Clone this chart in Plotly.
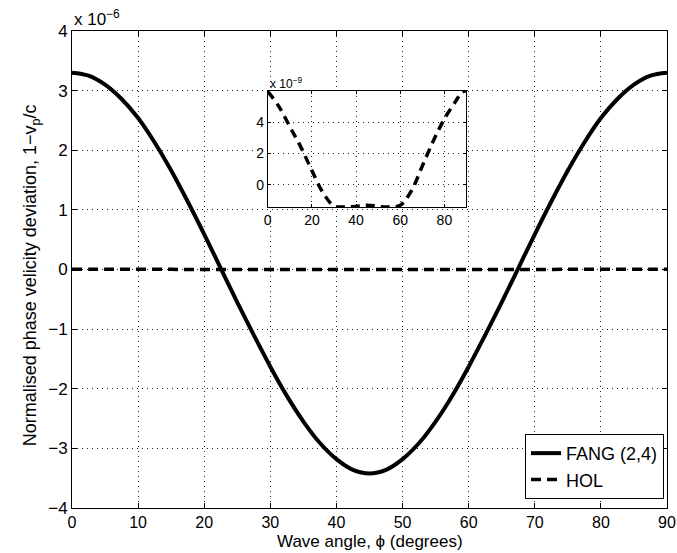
import plotly.graph_objects as go

# Wave angle samples (degrees)
angle = [0, 2.5, 5, 7.5, 10, 12.5, 15, 17.5, 20, 22.5, 25, 27.5, 30, 32.5, 35, 37.5, 40, 42.5,
         45, 47.5, 50, 52.5, 55, 57.5, 60, 62.5, 65, 67.5, 70, 72.5, 75, 77.5, 80, 82.5, 85, 87.5, 90]

# FANG (2,4) normalised phase velocity deviation, units of 1e-6
fang = [3.30, 3.25, 3.10, 2.86, 2.54, 2.13, 1.66, 1.14, 0.59, 0.02, -0.55, -1.10, -1.63,
        -2.12, -2.55, -2.91, -3.18, -3.36, -3.42, -3.36, -3.18, -2.91, -2.55, -2.12, -1.63,
        -1.10, -0.55, 0.02, 0.59, 1.14, 1.66, 2.13, 2.54, 2.86, 3.10, 3.25, 3.30]

# HOL deviation, units of 1e-9
hol_angle = [0, 5, 10, 15, 20, 25, 30, 35, 40, 45, 50, 55, 60, 65, 70, 75, 80, 85, 88, 90]
hol = [5.95, 5.0, 3.7, 2.4, 0.9, -0.5, -1.35, -1.42, -1.38, -1.3, -1.38, -1.42,
       -1.3, -0.4, 1.2, 2.8, 4.2, 5.3, 5.9, 6.0]

main_yticks = [-4, -3, -2, -1, 0, 1, 2, 3, 4]
main_xticks = [0, 10, 20, 30, 40, 50, 60, 70, 80, 90]
inset_xticks = [0, 20, 40, 60, 80]
inset_yticks = [0, 2, 4]

FONT = "Liberation Sans, Arial, Helvetica, sans-serif"
X_RANGE = [0, 90]
Y_RANGE = [-4e-6, 4e-6]
INSET_X = [0.329, 0.663]
INSET_Y = [0.630, 0.874]


def to_data(frac, rng):
    return rng[0] + frac * (rng[1] - rng[0])


fig = go.Figure()

# White panel behind the inset so the main grid does not show through
bx0, bx1 = (to_data(f, X_RANGE) for f in INSET_X)
by0, by1 = (to_data(f, Y_RANGE) for f in INSET_Y)
fig.add_trace(go.Scatter(
    x=[bx0, bx1, bx1, bx0, bx0], y=[by0, by0, by1, by1, by0],
    fill="toself", fillcolor="white", mode="none", showlegend=False,
    hoverinfo="skip", xaxis="x", yaxis="y"))

fig.add_trace(go.Scatter(
    x=angle, y=[v * 1e-6 for v in fang], mode="lines", name="FANG (2,4)",
    line=dict(color="black", width=4, shape="spline"),
    xaxis="x", yaxis="y"))
fig.add_trace(go.Scatter(
    x=hol_angle, y=[v * 1e-9 for v in hol], mode="lines", name="HOL",
    line=dict(color="black", width=3.5, dash="10px,6px", shape="spline"),
    xaxis="x", yaxis="y"))

# Inset: HOL on its own scale
fig.add_trace(go.Scatter(
    x=hol_angle, y=hol, mode="lines", showlegend=False,
    line=dict(color="black", width=3.5, dash="9px,6px", shape="spline"),
    xaxis="x2", yaxis="y2"))

axis_common = dict(
    showline=True, linecolor="black", linewidth=1, mirror="ticks",
    ticks="inside", ticklen=5, tickcolor="black",
    showgrid=True, gridcolor="#222", gridwidth=1, griddash="1px,4px",
    zeroline=False, automargin=False,
)

fig.update_layout(
    width=677, height=553,
    margin=dict(l=72, r=10, t=31, b=45),
    paper_bgcolor="white", plot_bgcolor="white",
    font=dict(family=FONT, color="black", size=16),
    xaxis=dict(axis_common, range=X_RANGE, tickvals=main_xticks,
               tickfont=dict(size=16)),
    yaxis=dict(axis_common, range=Y_RANGE,
               tickvals=[t * 1e-6 for t in main_yticks],
               ticktext=[str(t).replace("-", "\u2212") for t in main_yticks],
               tickfont=dict(size=17)),
    xaxis2=dict(axis_common, domain=INSET_X, anchor="y2", range=[0, 90],
                tickvals=inset_xticks, tickfont=dict(size=14), ticklen=3),
    yaxis2=dict(axis_common, domain=INSET_Y, anchor="x2", range=[-1.45, 5.97],
                tickvals=inset_yticks, tickfont=dict(size=14), ticklen=3),
    legend=dict(x=0.995, y=0.019, xanchor="right", yanchor="bottom",
                bgcolor="white", bordercolor="black", borderwidth=1,
                font=dict(size=18), itemwidth=30, tracegroupgap=0),
    annotations=[
        dict(text="Wave angle, \u03d5 (degrees)", xref="paper", yref="paper",
             x=0.5, y=0, xanchor="center", yanchor="top", yshift=-22,
             showarrow=False, font=dict(size=17)),
        dict(text="Normalised phase velicity deviation, 1\u2212v<sub>p</sub>/c",
             xref="paper", yref="paper", x=0, y=0.488, xshift=-41,
             xanchor="center", yanchor="middle", textangle=-90,
             showarrow=False, font=dict(size=18)),
        dict(text="x 10<sup>\u22126</sup>", xref="paper", yref="paper", x=0, y=1,
             xanchor="left", yanchor="bottom", showarrow=False, font=dict(size=17)),
        dict(text="x 10<sup>\u22129</sup>", xref="paper", yref="paper", x=INSET_X[0], y=INSET_Y[1],
             xanchor="left", yanchor="bottom", showarrow=False, font=dict(size=12), yshift=-2),
    ],
)

fig.write_html("out.html")
